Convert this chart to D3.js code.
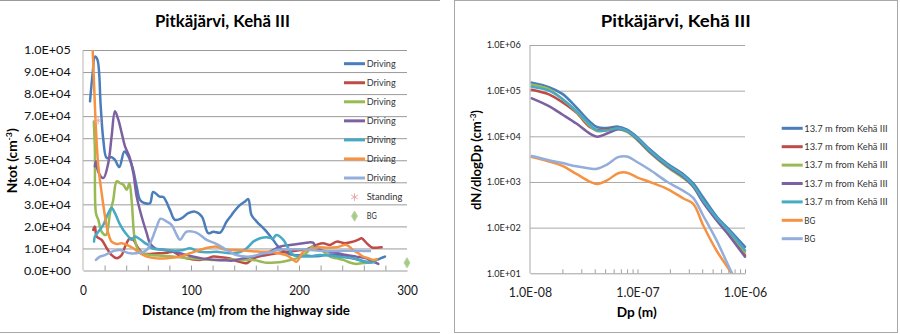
<!DOCTYPE html>
<html>
<head>
<meta charset="utf-8">
<script src="https://cdn.jsdelivr.net/npm/d3@7"></script>
<style>
  html, body { margin: 0; padding: 0; background: #fff; }
  svg { display: block; font-family: Lato, "Open Sans", "Liberation Sans", sans-serif; }
</style>
</head>
<body>
<svg id="chart" width="900" height="334"></svg>
<script>
// ---------- Left panel: total number concentration vs distance ----------
const drive1Dist = [6.5, 9, 11, 13.3, 16.4, 18.8, 22, 26.5, 29.6, 33.6, 38.3, 42, 46, 49.7, 52.8, 57.4, 62, 65, 71, 74.4, 80.5, 85, 91.4, 97.5, 103.7, 110, 116, 120.7, 126.9, 133, 137.6, 143.8, 150, 153, 156, 160.8, 168.5, 176, 180.8, 188.6, 195, 204, 212, 219, 227, 235, 243, 250, 256, 262.6, 268, 272, 276, 279.6];
const drive1Ntot = [76700, 89600, 97000, 95700, 74500, 59300, 51000, 51400, 50200, 46900, 54000, 51700, 46400, 38100, 32000, 30500, 30500, 35600, 33500, 33300, 27500, 23000, 23700, 26000, 26700, 24500, 16900, 17600, 17200, 22200, 25200, 29000, 31300, 32400, 25200, 22200, 18400, 13900, 10800, 8000, 7000, 7000, 6500, 6600, 7200, 7000, 6200, 5500, 4800, 4000, 4200, 4800, 5600, 6300];

const drive2Dist = [9.5, 11, 12.7, 17.3, 22, 26.5, 31.2, 35.8, 38.9, 43.5, 46.6, 51.2, 55.8, 62, 70, 77, 83.6, 90, 96, 102, 108, 114, 120.6, 128, 136, 141, 145, 151.6, 157.7, 164, 170, 179, 188.6, 197, 207, 216, 222.4, 228.7, 234.9, 242.6, 250, 255, 258, 262.6, 267.3, 272, 276.5];
const drive2Ntot = [18400, 19900, 15400, 13900, 10100, 7000, 5500, 7000, 10800, 14600, 13900, 10100, 7800, 7500, 7800, 8000, 8500, 6500, 5500, 5000, 4800, 5300, 6300, 6000, 5500, 4500, 4000, 3300, 5500, 6500, 7000, 7800, 8500, 9000, 9600, 11600, 12400, 11600, 13100, 12400, 13100, 14000, 14600, 12400, 10500, 10300, 10500];

const drive3Dist = [10, 11, 12, 14.2, 17.3, 21.3, 25, 28, 31.2, 34.3, 37.3, 40.5, 43, 45, 48, 51.2, 56, 62, 70, 80, 90, 100, 110, 120, 130, 139, 148, 157.7, 165, 170, 178, 185, 192, 197.8, 204, 208, 213, 219, 224, 228.7, 235, 241, 247, 253, 258, 262.6, 267, 272];
const drive3Ntot = [67600, 54800, 26000, 23000, 17600, 16100, 26000, 32000, 40400, 39600, 38900, 36600, 39600, 32000, 13900, 9300, 7800, 7000, 6800, 6500, 6000, 5500, 5200, 4800, 4800, 5000, 4700, 4800, 4000, 3500, 3600, 4000, 4800, 5500, 7000, 8500, 11100, 10100, 8000, 6300, 5500, 4800, 3600, 3000, 3300, 3500, 3900, 4800];

const drive4Dist = [11, 12, 14, 18.8, 23.4, 26.5, 29.6, 32.7, 35.8, 38.9, 42.9, 46.6, 49.7, 54.3, 59, 62, 66.7, 72, 80, 89.8, 100, 110, 124, 132, 139, 148, 157.7, 165, 173, 182.4, 191.7, 204, 213, 216, 222, 228.7, 236, 244, 253, 262.6, 268, 273.4];
const drive4Ntot = [47200, 49500, 44900, 41900, 48700, 60800, 72200, 68400, 62400, 56300, 51700, 44200, 33500, 24500, 16900, 12400, 10100, 9500, 9000, 7800, 6500, 5500, 4800, 4600, 4500, 5500, 6300, 7200, 8500, 10800, 11600, 12400, 12600, 10100, 9000, 8500, 7800, 7000, 6300, 5500, 4200, 3000];

const drive5Dist = [10.2, 11, 14.2, 18.8, 23.4, 26.5, 29.6, 33.6, 37.3, 42, 45, 48, 52.8, 57.4, 60.5, 63.6, 70, 77.5, 85, 92.9, 99, 108, 116, 123.8, 132, 139, 146, 151.6, 157.7, 164, 170, 176, 179, 185.5, 190, 194.7, 200, 207, 213, 219, 227, 234.9, 242, 250, 255, 259.5, 265.7, 270];
const drive5Ntot = [13100, 15400, 17600, 20700, 26000, 28300, 26000, 21500, 18400, 15400, 13900, 15400, 14200, 12400, 11600, 10100, 9600, 9300, 9000, 9300, 10100, 8500, 8300, 8500, 8000, 7800, 8500, 10100, 13100, 14600, 15100, 14600, 16100, 13900, 10100, 7000, 6500, 6300, 6600, 7000, 6800, 6300, 6000, 5500, 4800, 4000, 3500, 3800];

const drive6Dist = [8.3, 10.2, 12, 14.2, 17.3, 20.4, 23.4, 26.5, 31.2, 35.8, 40.5, 46.6, 52.8, 59, 68, 77.5, 89.8, 99, 108, 117.6, 123.8, 130, 139, 151.6, 164, 173, 181, 188, 193, 197.8, 204, 212, 219, 227, 234.9, 244, 250, 255, 259.5, 264, 268.8, 272];
const drive6Ntot = [108000, 85000, 63900, 47200, 35100, 24500, 16900, 13100, 12000, 12400, 11600, 10100, 7800, 6300, 5500, 5500, 6300, 7800, 9300, 10500, 10800, 9600, 9300, 9000, 8500, 8500, 7800, 7000, 5500, 4000, 8500, 9800, 10500, 10300, 10500, 11600, 9300, 7800, 6300, 5600, 4800, 5200];

const drive7Dist = [12, 15.7, 20.4, 25, 29.6, 34.3, 43.5, 52.8, 59, 63.6, 68.3, 71.9, 77.5, 82, 86.8, 89.8, 96, 105, 114.5, 123.8, 133, 142, 154.6, 167, 173, 179, 185.5, 195, 204, 219, 234.9, 250, 265.7];
const drive7Ntot = [4800, 6300, 7000, 8100, 9000, 9300, 7800, 8100, 9300, 13900, 19900, 23500, 22200, 20700, 16100, 13900, 17600, 17200, 13900, 12000, 9300, 7000, 6300, 7800, 8100, 9300, 9600, 9600, 9600, 8900, 8900, 9000, 8900];

const standingDist = [14];
const standingNtot = [68000];
const bgDist = [300];
const bgNtot = [3500];

const leftYTicks = [0, 10000, 20000, 30000, 40000, 50000, 60000, 70000, 80000, 90000, 100000];
const leftXTicks = [0, 100, 200, 300];
const leftXMinor = [20, 40, 60, 80, 100, 120, 140, 160, 180, 200, 220, 240, 260, 280];
const leftLegend = ["Driving", "Driving", "Driving", "Driving", "Driving", "Driving", "Driving", "Standing", "BG"];

// ---------- Right panel: size distributions ----------
const dpBins = [1.04e-8, 1.5e-8, 2.0e-8, 2.7e-8, 3.6e-8, 4.2e-8, 5.2e-8, 6.6e-8, 8.0e-8, 1.0e-7, 1.3e-7, 1.9e-7, 2.7e-7, 3.3e-7, 4.1e-7, 5.5e-7, 7.3e-7, 1.0e-6];
const psdRun1 = [150000, 120000, 85000, 43000, 21000, 16000, 15200, 16300, 14000, 9500, 5200, 2500, 1450, 930, 450, 170, 85, 38];
const psdRun2 = [105000, 83000, 56000, 33000, 16000, 13800, 14200, 15000, 13000, 8800, 4800, 2300, 1300, 820, 380, 150, 70, 25];
const psdRun3 = [135000, 108000, 65000, 35000, 17000, 13000, 13500, 14500, 12500, 8200, 4400, 2100, 1200, 780, 360, 150, 72, 29];
const psdRun4 = [68000, 46000, 30000, 19000, 11500, 9800, 11500, 14200, 13000, 8500, 4600, 2200, 1250, 800, 350, 140, 62, 23];
const psdRun5 = [122000, 100000, 66000, 36000, 18000, 13500, 13500, 15000, 13200, 9000, 4900, 2350, 1350, 850, 390, 160, 78, 32];
const psdBgA = [3500, 2800, 2250, 1500, 1020, 900, 1080, 1550, 1600, 1250, 1000, 700, 430, 330, 110, 30, 11, 3];
const psdBgB = [3700, 3000, 2600, 2200, 1980, 1950, 2400, 3500, 3600, 2700, 1850, 1000, 630, 450, 180, 50, 12, 3];

const rightYTicks = [1e1, 1e2, 1e3, 1e4, 1e5, 1e6];
const rightXTicks = [1e-8, 1e-7, 1e-6];
const rightXMinor = [2e-8, 3e-8, 4e-8, 5e-8, 6e-8, 7e-8, 8e-8, 9e-8, 1e-7, 2e-7, 3e-7, 4e-7, 5e-7, 6e-7, 7e-7, 8e-7, 9e-7, 1e-6];
const rightLegend = ["13.7 m from Kehä III", "13.7 m from Kehä III", "13.7 m from Kehä III", "13.7 m from Kehä III", "13.7 m from Kehä III", "BG", "BG"];

// ---------- styling ----------
const palette = ["#4A7DBA", "#BE4B48", "#98B954", "#7D60A0", "#46AAC5", "#F59343", "#94AEDB"];
const gridColor = "#9a9a9a";
const standingColor = "#ECA9A9";

function sci(v) {
  if (v === 0) return "0.0E+00";
  const e = Math.floor(Math.log10(v) + 1e-9);
  const m = v / Math.pow(10, e);
  return m.toFixed(1) + "E" + (e < 0 ? "-" : "+") + String(Math.abs(e)).padStart(2, "0");
}
function fit(sel, w) {
  sel.attr("textLength", w).attr("lengthAdjust", "spacingAndGlyphs");
}
// horizontally squeeze/stretch a text (with tspans) to a target width, in its own frame
function squeeze(textSel, target, x, y, angle) {
  const w = textSel.node().getComputedTextLength();
  textSel.attr("transform", `translate(${x},${y}) rotate(${angle}) scale(${target / w},1)`);
}

const svg = d3.select("#chart");

// panel frames
svg.append("line").attr("x1", 0).attr("x2", 440).attr("y1", 0.5).attr("y2", 0.5).attr("stroke", "#9a9a9a");
svg.append("line").attr("x1", 0).attr("x2", 440).attr("y1", 332.5).attr("y2", 332.5).attr("stroke", "#a8a8a8");
svg.append("rect").attr("x", 454.5).attr("y", 0.5).attr("width", 443).attr("height", 332)
  .attr("fill", "none").attr("stroke", "#a8a8a8");

// ================= LEFT =================
const xL = d3.scaleLinear().domain([0, 300]).range([83, 407]);
const yL = d3.scaleLinear().domain([0, 100000]).range([270.5, 50]);
const left = svg.append("g");

// gridlines
left.append("g").attr("transform", `translate(${xL(0)},0)`)
  .call(d3.axisLeft(yL).tickValues(leftYTicks.slice(1)).tickSize(-(xL(300) - xL(0))).tickFormat(""))
  .call(g => g.select(".domain").remove())
  .call(g => g.selectAll("line").attr("stroke", gridColor));

// y axis line
left.append("line").attr("x1", xL(0)).attr("x2", xL(0)).attr("y1", yL(100000)).attr("y2", yL(0)).attr("stroke", "#b5b5b5");

// x axis with inward minor ticks
left.append("g").attr("transform", `translate(0,${yL(0)})`)
  .call(d3.axisBottom(xL).tickValues(leftXMinor).tickSize(-5).tickSizeOuter(0).tickFormat(""))
  .call(g => g.selectAll("line, path").attr("stroke", "#9a9a9a"));

// y labels
left.append("g").attr("transform", `translate(${xL(0)},0)`)
  .call(d3.axisLeft(yL).tickValues(leftYTicks).tickSize(0).tickPadding(12.3).tickFormat(sci))
  .call(g => g.select(".domain").remove())
  .call(g => g.selectAll("text").attr("font-size", 11.5).attr("fill", "#111").attr("font-family", "Lato").call(fit, 46.7));

// x labels
left.append("g").attr("transform", `translate(0,${yL(0)})`)
  .call(d3.axisBottom(xL).tickValues(leftXTicks).tickSize(0).tickPadding(14.6).tickFormat(d3.format("d")))
  .call(g => g.select(".domain").remove())
  .call(g => g.selectAll("text").attr("font-size", 14).attr("fill", "#111").attr("font-family", "Lato")
    .each(function (d) { d3.select(this).call(fit, String(d).length * 6.87); }));

// clip
svg.append("clipPath").attr("id", "clipL").append("rect")
  .attr("x", xL(0)).attr("y", yL(100000)).attr("width", xL(300) - xL(0)).attr("height", yL(0) - yL(100000));

const lineL = d3.line().x(d => xL(d[0])).y(d => yL(d[1])).curve(d3.curveCatmullRom.alpha(0.5));
const drives = [
  [drive1Dist, drive1Ntot], [drive2Dist, drive2Ntot], [drive3Dist, drive3Ntot], [drive4Dist, drive4Ntot],
  [drive5Dist, drive5Ntot], [drive6Dist, drive6Ntot], [drive7Dist, drive7Ntot]
];
const plotL = left.append("g").attr("clip-path", "url(#clipL)");
drives.forEach(([ds, ns], i) => {
  plotL.append("path").datum(d3.zip(ds, ns)).attr("d", lineL)
    .attr("fill", "none").attr("stroke", palette[i]).attr("stroke-width", 2.5)
    .attr("stroke-linejoin", "round").attr("stroke-linecap", "round");
});

// standing / background markers
left.selectAll(".stand").data(d3.zip(standingDist, standingNtot)).join("path")
  .attr("transform", d => `translate(${xL(d[0])},${yL(d[1])})`)
  .attr("d", d3.symbol(d3.symbolAsterisk, 40)).attr("fill", "none").attr("stroke", standingColor).attr("stroke-width", 1);
left.selectAll(".bg").data(d3.zip(bgDist, bgNtot)).join("path")
  .attr("transform", d => `translate(${xL(d[0])},${yL(d[1])})`)
  .attr("d", d3.symbol(d3.symbolDiamond, 30)).attr("fill", "#A9C98A").attr("stroke", "#B9D49E").attr("stroke-width", 1);

// legend
const legL = left.append("g");
leftLegend.forEach((name, i) => {
  const y = 63.7 + i * 19.05;
  if (i < 7) {
    legL.append("line").attr("x1", 344).attr("x2", 365).attr("y1", y).attr("y2", y)
      .attr("stroke", palette[i]).attr("stroke-width", 3);
  } else if (i === 7) {
    legL.append("path").attr("transform", `translate(354.5,${y})`)
      .attr("d", d3.symbol(d3.symbolAsterisk, 40)).attr("fill", "none").attr("stroke", standingColor).attr("stroke-width", 1);
  } else {
    legL.append("path").attr("transform", `translate(354.5,${y})`)
      .attr("d", d3.symbol(d3.symbolDiamond, 30)).attr("fill", "#A9C98A").attr("stroke", "#B9D49E").attr("stroke-width", 1);
  }
  const w = name === "Driving" ? 29 : name === "Standing" ? 35.7 : 10;
  legL.append("text").attr("x", 366.7).attr("y", y + 3.2).attr("font-size", 9).attr("fill", "#333")
    .text(name).call(fit, w);
});

// titles
left.append("text").attr("x", 222.5).attr("y", 26.7).attr("text-anchor", "middle")
  .attr("font-size", 16.3).attr("font-weight", "bold").text("Pitkäjärvi, Kehä III").call(fit, 135);
left.append("text").attr("x", 246).attr("y", 315).attr("text-anchor", "middle")
  .attr("font-size", 13).attr("font-weight", "bold").text("Distance (m) from the highway side").call(fit, 208);
const ytL = left.append("text").attr("text-anchor", "middle").attr("font-size", 12.5).attr("font-weight", "bold");
ytL.append("tspan").text("Ntot (cm");
ytL.append("tspan").attr("font-size", 8).attr("dy", -5).text("-3");
ytL.append("tspan").attr("dy", 5).text(")");
squeeze(ytL, 65, 17, 160.8, -90);

// ================= RIGHT =================
const xR = d3.scaleLog().domain([1e-8, 1e-6]).range([530, 745]);
const yR = d3.scaleLog().domain([10, 1e6]).range([273.3, 45]);
const right = svg.append("g");

right.append("g").attr("transform", `translate(${xR(1e-8)},0)`)
  .call(d3.axisLeft(yR).tickValues(rightYTicks.slice(1)).tickSize(-(xR(1e-6) - xR(1e-8))).tickFormat(""))
  .call(g => g.select(".domain").remove())
  .call(g => g.selectAll("line").attr("stroke", "#a8a8a8"));

right.append("line").attr("x1", xR(1e-8)).attr("x2", xR(1e-8)).attr("y1", yR(1e6)).attr("y2", yR(10)).attr("stroke", "#a8a8a8");

right.append("g").attr("transform", `translate(0,${yR(10)})`)
  .call(d3.axisBottom(xR).tickValues(rightXMinor).tickSize(-4).tickSizeOuter(0).tickFormat(""))
  .call(g => g.selectAll("line, path").attr("stroke", "#a0a0a0"));

right.append("g").attr("transform", `translate(${xR(1e-8)},0)`)
  .call(d3.axisLeft(yR).tickValues(rightYTicks).tickSize(0).tickPadding(9.3).tickFormat(sci))
  .call(g => g.select(".domain").remove())
  .call(g => g.selectAll("text").attr("font-size", 8.5).attr("fill", "#222").attr("font-family", "Lato").call(fit, 34));

right.append("g").attr("transform", `translate(0,${yR(10)})`)
  .call(d3.axisBottom(xR).tickValues(rightXTicks).tickSize(0).tickPadding(13.5).tickFormat(sci))
  .call(g => g.select(".domain").remove())
  .call(g => g.selectAll("text").attr("font-size", 14).attr("fill", "#222").attr("font-family", "Lato").call(fit, 43.3));

svg.append("clipPath").attr("id", "clipR").append("rect")
  .attr("x", xR(1e-8)).attr("y", yR(1e6)).attr("width", xR(1e-6) - xR(1e-8) + 2).attr("height", yR(10) - yR(1e6));

const lineR = d3.line().x(d => xR(d[0])).y(d => yR(d[1])).curve(d3.curveCatmullRom.alpha(0.5));
const psds = [psdRun1, psdRun2, psdRun3, psdRun4, psdRun5, psdBgA, psdBgB];
const plotR = right.append("g").attr("clip-path", "url(#clipR)");
psds.forEach((vals, i) => {
  plotR.append("path").datum(d3.zip(dpBins, vals)).attr("d", lineR)
    .attr("fill", "none").attr("stroke", palette[i]).attr("stroke-width", 2.5)
    .attr("stroke-linejoin", "round").attr("stroke-linecap", "round");
});

const legR = right.append("g");
rightLegend.forEach((name, i) => {
  const y = 128.3 + i * 18.4;
  legR.append("line").attr("x1", 781.7).attr("x2", 802.7).attr("y1", y).attr("y2", y)
    .attr("stroke", palette[i]).attr("stroke-width", 3);
  legR.append("text").attr("x", 804.3).attr("y", y + 3.3).attr("font-size", 9).attr("fill", "#333")
    .text(name).call(fit, name === "BG" ? 11 : 83.4);
});

right.append("text").attr("x", 675.8).attr("y", 26.7).attr("text-anchor", "middle")
  .attr("font-size", 17.7).attr("font-weight", "bold").text("Pitkäjärvi, Kehä III").call(fit, 150);
right.append("text").attr("x", 636.7).attr("y", 316.7).attr("text-anchor", "middle")
  .attr("font-size", 13).attr("font-weight", "bold").text("Dp (m)").call(fit, 40);
const ytR = right.append("text").attr("text-anchor", "middle").attr("font-size", 13).attr("font-weight", "bold");
ytR.append("tspan").text("dN/dlogDp (cm");
ytR.append("tspan").attr("font-size", 8).attr("dy", -5).text("-3");
ytR.append("tspan").attr("dy", 5).text(")");
squeeze(ytR, 100, 480.7, 160, -90);
</script>
</body>
</html>
